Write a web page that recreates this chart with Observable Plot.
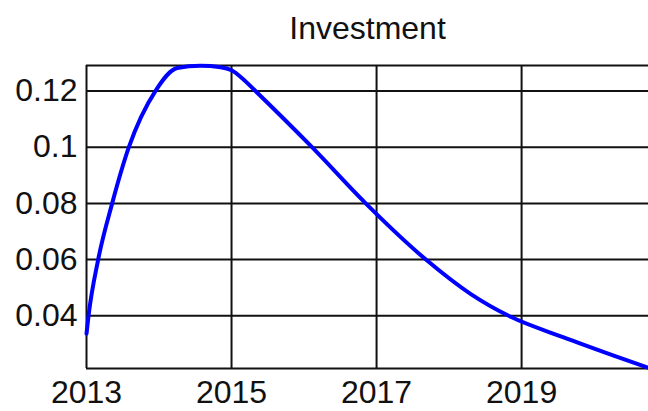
<!DOCTYPE html>
<html>
<head>
<meta charset="utf-8">
<script src="https://cdn.jsdelivr.net/npm/d3@7"></script>
<script src="https://cdn.jsdelivr.net/npm/@observablehq/plot@0.6"></script>
<style>
  html, body { margin: 0; padding: 0; background: #fff; }
</style>
</head>
<body>
<div id="chart"></div>
<script>
const title = "Investment";
const years = [2013.0, 2013.028, 2013.161, 2013.354, 2013.584, 2013.95, 2014.25, 2014.57, 2014.85, 2015.0, 2015.15, 2015.33, 2016.11, 2016.85, 2017.68, 2018.3, 2018.85, 2019.58, 2020.27, 2020.75];
const values = [0.0336, 0.040, 0.060, 0.080, 0.100, 0.120, 0.1282, 0.1290, 0.1285, 0.1274, 0.1245, 0.120, 0.100, 0.080, 0.060, 0.0477, 0.0396, 0.0323, 0.0258, 0.0214];
const xTicks = [2013, 2015, 2017, 2019];
const yTicks = [0.04, 0.06, 0.08, 0.1, 0.12];
const xDomain = [2013, 2020.75];
const yDomain = [0.0212, 0.1291];

const data = years.map((year, i) => ({year, value: values[i]}));

const chart = Plot.plot({
  width: 648,
  height: 411,
  marginLeft: 86,
  marginRight: 0,
  marginTop: 65,
  marginBottom: 43,
  style: {fontFamily: "'Liberation Sans', Arial, sans-serif", fontSize: "32px", color: "#111", background: "#fff"},
  x: {domain: xDomain, ticks: xTicks, tickFormat: d => String(d), tickSize: 0, tickPadding: 12, label: null},
  y: {domain: yDomain, ticks: yTicks, tickFormat: d => String(d), tickSize: 0, tickPadding: 9, label: null},
  marks: [
    Plot.ruleX(xTicks, {stroke: "#111", strokeWidth: 2}),
    Plot.ruleY(yTicks, {stroke: "#111", strokeWidth: 2}),
    Plot.ruleY(yDomain, {stroke: "#111", strokeWidth: 2}),
    Plot.line(data, {x: "year", y: "value", curve: "monotone-x", stroke: "#0000ff", strokeWidth: 4}),
    Plot.text([title], {frameAnchor: "top", dy: -49, fontSize: 32, fill: "#111"})
  ]
});
document.getElementById("chart").appendChild(chart);
</script>
</body>
</html>
